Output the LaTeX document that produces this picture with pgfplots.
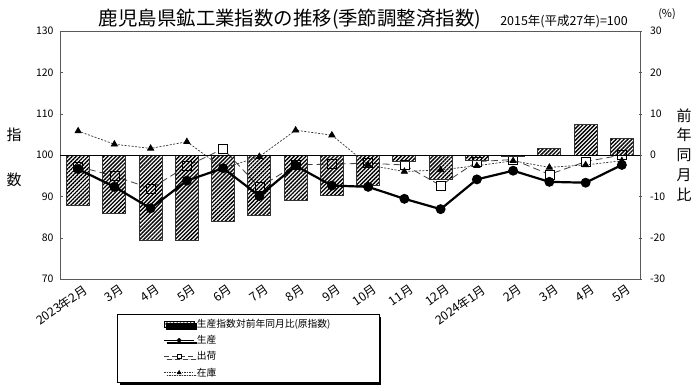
\documentclass[border=0pt]{standalone}
\usepackage{fontspec}
\setmainfont{Noto Sans CJK JP}
\usepackage{pgfplots}
\usepackage{pgfplotstable}
\pgfplotsset{compat=1.18}
\usetikzlibrary{patterns.meta,shadows}

\pgfplotstableread{
x bar prod ship inv
0 -12.3 96.6 97.2 105.8
1 -14.2 92.3 94.9 102.6
2 -20.6 87.1 91.9 101.6
3 -20.6 93.8 97.3 103.2
4 -16.1 96.8 101.5 96.8
5 -14.7 90.1 92.2 99.6
6 -11.1 97.4 97.6 106.0
7 -9.7 92.6 97.8 104.8
8 -7.4 92.3 98.0 97.6
9 -1.6 89.4 97.6 96.0
10 -6.0 86.9 92.6 96.4
11 -1.4 94.1 98.4 97.4
12 -0.4 96.2 98.9 98.6
13 1.5 93.5 95.3 97.0
14 7.3 93.3 98.4 97.6
15 4.1 97.6 100.0 98.6
}\data

\begin{document}
\begin{tikzpicture}
\pgfplotsset{
  base/.style={at={(60bp,112bp)}, anchor=south west, scale only axis,
    width=580bp, height=248bp, xmin=-0.5, xmax=15.5,
    /pgf/number format/assume math mode=true},
}
% ---- left axis: frame, index ticks, shipment
\begin{axis}[base, ymin=70, ymax=130, ytick={70,80,...,130}, ytick pos=left,
  xtick={0,...,15},
  xticklabels={{2023年2月},{3月},{4月},{5月},{6月},{7月},{8月},{9月},{10月},{11月},{12月},{2024年1月},{2月},{3月},{4月},{5月}},
  xtick style={draw=none},
  xticklabel style={rotate=35, anchor=north east, font=\fontsize{12.3}{12.3}\selectfont, inner sep=0pt, xshift=1bp, yshift=-6bp},
  yticklabel style={font=\fontsize{10.5}{10.5}\selectfont, xshift=-3bp},
  axis line style={draw=black!65, line width=0.9bp},
  major tick length=3bp, tick align=inside, ytick style={black!65},
]
\addplot[black!75, dash pattern=on 7bp off 4bp, line width=0.8bp,
  mark=square*, mark size=4.5bp,
  mark options={solid, fill=white, draw=black, line width=0.7bp}]
  table[x=x, y=ship]{\data};
\end{axis}
% ---- right axis: percentage bars
\begin{axis}[base, ymin=-30, ymax=30, ytick={-30,-20,...,30},
  axis y line*=right, hide x axis, ybar, bar width=23bp,
  yticklabel style={font=\fontsize{10.5}{10.5}\selectfont, xshift=5bp},
  axis line style={draw=black!65, line width=0.9bp},
  major tick length=3bp, tick align=center, ytick style={black!65},
]
\addplot[draw=black!80, line width=0.8bp, pattern={Lines[angle=45,distance=2.8bp,line width=1.35bp]}]
  table[x=x, y=bar]{\data};
\draw[black, line width=0.9bp] (axis cs:-0.5,0) -- (axis cs:15.5,0);
\end{axis}
% ---- overlay: production, inventory, legend
\begin{axis}[base, ymin=70, ymax=130, hide axis,
  legend image code/.code={\draw[mark repeat=2,mark phase=2,#1] plot coordinates {(0bp,0bp) (15bp,0bp) (30bp,0bp)};},
  legend style={at={(0.0983,-0.141)}, anchor=north west, draw=black, line width=0.7bp,
    fill=white, font=\fontsize{9.8}{9.8}\selectfont, inner xsep=46bp, inner ysep=3bp,
    row sep=2.5bp, cells={anchor=west},
    drop shadow={shadow xshift=2.5bp, shadow yshift=-2.5bp, fill=black, opacity=1}},
]
\addplot[black, line width=2.2bp, mark=*, mark size=3.8bp, forget plot]
  table[x=x, y=prod]{\data};
\addplot[black!80, line width=0.7bp, dash pattern=on 2bp off 1.5bp,
  mark=triangle*, mark size=3.6bp, mark options={solid, black}, forget plot]
  table[x=x, y=inv]{\data};
\addlegendimage{legend image code/.code={\draw[draw=black, line width=0.5bp, pattern={Lines[angle=45,distance=2.4bp,line width=0.5bp]}] (0bp,-3bp) rectangle (30bp,3bp);}}
\addlegendentry{\makebox[134bp][l]{生産指数対前年同月比(原指数)}}
\addlegendimage{black, line width=1.6bp, mark=*, mark size=1.5bp}
\addlegendentry{生産}
\addlegendimage{black!75, dash pattern=on 5bp off 3bp, line width=0.8bp, mark=square*, mark size=2.2bp, mark options={solid, fill=white, draw=black, line width=0.6bp}}
\addlegendentry{出荷}
\addlegendimage{black!80, line width=0.6bp, dash pattern=on 1.5bp off 1bp, mark=triangle*, mark size=2.2bp, mark options={solid, black}}
\addlegendentry{在庫}
\end{axis}
% ---- texts
\node[font=\fontsize{19.5}{19.5}\selectfont] at (290bp,372bp) {鹿児島県鉱工業指数の推移(季節調整済指数)};
\node[font=\fontsize{12.5}{12.5}\selectfont] at (564bp,370bp) {2015年(平成27年)=100};
\node[font=\fontsize{11}{11}\selectfont] at (667bp,377bp) {(\%)};
\node[font=\fontsize{15}{15}\selectfont] at (14bp,256bp) {指};
\node[font=\fontsize{15}{15}\selectfont] at (14bp,211bp) {数};
\node[font=\fontsize{15}{20}\selectfont, align=center] at (684bp,236bp) {前\\年\\同\\月\\比};
\pgfresetboundingbox
\path[use as bounding box] (0,0) rectangle (700bp,391bp);
\end{tikzpicture}
\end{document}
